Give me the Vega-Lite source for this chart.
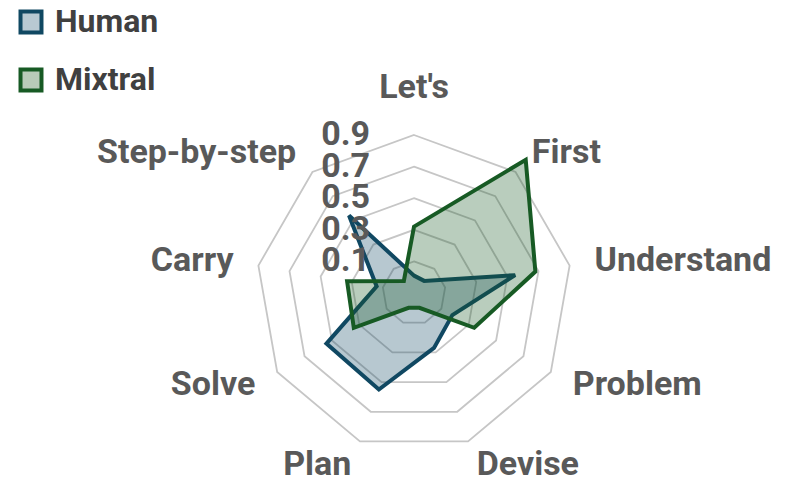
{
  "$schema": "https://vega.github.io/schema/vega-lite/v6.json",
  "width": 788,
  "height": 499,
  "padding": 0,
  "autosize": {"type": "none"},
  "background": "white",
  "config": {"view": {"stroke": null}, "font": "Roboto"},
  "datasets": {
    "axes": [
      {"axis": "Let's", "idx": 0, "levels": [0.1, 0.3, 0.5, 0.7, 0.9]},
      {"axis": "First", "idx": 1, "levels": [0.1, 0.3, 0.5, 0.7, 0.9]},
      {"axis": "Understand", "idx": 2, "levels": [0.1, 0.3, 0.5, 0.7, 0.9]},
      {"axis": "Problem", "idx": 3, "levels": [0.1, 0.3, 0.5, 0.7, 0.9]},
      {"axis": "Devise", "idx": 4, "levels": [0.1, 0.3, 0.5, 0.7, 0.9]},
      {"axis": "Plan", "idx": 5, "levels": [0.1, 0.3, 0.5, 0.7, 0.9]},
      {"axis": "Solve", "idx": 6, "levels": [0.1, 0.3, 0.5, 0.7, 0.9]},
      {"axis": "Carry", "idx": 7, "levels": [0.1, 0.3, 0.5, 0.7, 0.9]},
      {"axis": "Step-by-step", "idx": 8, "levels": [0.1, 0.3, 0.5, 0.7, 0.9]}
    ],
    "levels": [{"level": 0.1}, {"level": 0.3}, {"level": 0.5}, {"level": 0.7}, {"level": 0.9}],
    "scores": [
      {"series": "Human", "axis": "Let's", "value": 0.01},
      {"series": "Human", "axis": "First", "value": 0.0},
      {"series": "Human", "axis": "Understand", "value": 0.55},
      {"series": "Human", "axis": "Problem", "value": 0.18},
      {"series": "Human", "axis": "Devise", "value": 0.27},
      {"series": "Human", "axis": "Plan", "value": 0.55},
      {"series": "Human", "axis": "Solve", "value": 0.54},
      {"series": "Human", "axis": "Carry", "value": 0.14},
      {"series": "Human", "axis": "Step-by-step", "value": 0.54},
      {"series": "Mixtral", "axis": "Let's", "value": 0.32},
      {"series": "Mixtral", "axis": "First", "value": 1.0},
      {"series": "Mixtral", "axis": "Understand", "value": 0.68},
      {"series": "Mixtral", "axis": "Problem", "value": 0.34},
      {"series": "Mixtral", "axis": "Devise", "value": 0.0},
      {"series": "Mixtral", "axis": "Plan", "value": 0.0},
      {"series": "Mixtral", "axis": "Solve", "value": 0.34},
      {"series": "Mixtral", "axis": "Carry", "value": 0.33},
      {"series": "Mixtral", "axis": "Step-by-step", "value": 0.0}
    ]
  },
  "layer": [
    {
      "data": {"name": "axes"},
      "transform": [
        {"flatten": ["levels"], "as": ["level"]},
        {"calculate": "PI/2 - datum.idx*2*PI/9", "as": "ang"},
        {"calculate": "(datum.level+0.1)*cos(datum.ang)", "as": "x"},
        {"calculate": "(datum.level+0.1)*sin(datum.ang)", "as": "y"}
      ],
      "mark": {"type": "line", "interpolate": "linear-closed", "stroke": "#c6c6c6", "strokeWidth": 1.8},
      "encoding": {
        "x": {"field": "x", "type": "quantitative", "scale": {"domain": [-2.6203, 2.3671], "nice": false, "zero": false}, "axis": null},
        "y": {"field": "y", "type": "quantitative", "scale": {"domain": [-1.3038, 1.8544], "nice": false, "zero": false}, "axis": null},
        "detail": {"field": "level", "type": "nominal"},
        "order": {"field": "idx", "type": "quantitative"}
      }
    },
    {
      "data": {"name": "scores"},
      "transform": [
        {"filter": "datum.series == 'Human'"},
        {"lookup": "axis", "from": {"data": {"name": "axes"}, "key": "axis", "fields": ["idx"]}},
        {"calculate": "PI/2 - datum.idx*2*PI/9", "as": "ang"},
        {"calculate": "(datum.value+0.1)*cos(datum.ang)", "as": "x"},
        {"calculate": "(datum.value+0.1)*sin(datum.ang)", "as": "y"}
      ],
      "mark": {"type": "line", "interpolate": "linear-closed", "stroke": "#104862", "strokeWidth": 4, "fill": "#104862", "fillOpacity": 0.3, "strokeJoin": "miter"},
      "encoding": {
        "x": {"field": "x", "type": "quantitative"},
        "y": {"field": "y", "type": "quantitative"},
        "order": {"field": "idx", "type": "quantitative"}
      }
    },
    {
      "data": {"name": "scores"},
      "transform": [
        {"filter": "datum.series == 'Mixtral'"},
        {"lookup": "axis", "from": {"data": {"name": "axes"}, "key": "axis", "fields": ["idx"]}},
        {"calculate": "PI/2 - datum.idx*2*PI/9", "as": "ang"},
        {"calculate": "(datum.value+0.1)*cos(datum.ang)", "as": "x"},
        {"calculate": "(datum.value+0.1)*sin(datum.ang)", "as": "y"}
      ],
      "mark": {"type": "line", "interpolate": "linear-closed", "stroke": "#175a24", "strokeWidth": 4, "fill": "#175a24", "fillOpacity": 0.3, "strokeJoin": "miter"},
      "encoding": {
        "x": {"field": "x", "type": "quantitative"},
        "y": {"field": "y", "type": "quantitative"},
        "order": {"field": "idx", "type": "quantitative"}
      }
    },
    {
      "data": {"name": "axes"},
      "transform": [
        {"filter": "datum.idx >= 1 && datum.idx <= 4"},
        {"calculate": "PI/2 - datum.idx*2*PI/9", "as": "ang"},
        {"calculate": "1.16*cos(datum.ang)", "as": "x"},
        {"calculate": "1.16*sin(datum.ang)", "as": "y"}
      ],
      "mark": {"type": "text", "align": "left", "baseline": "middle", "fontSize": 34, "fontWeight": "bold", "color": "#595959"},
      "encoding": {
        "x": {"field": "x", "type": "quantitative"},
        "y": {"field": "y", "type": "quantitative"},
        "text": {"field": "axis"}
      }
    },
    {
      "data": {"name": "axes"},
      "transform": [
        {"filter": "datum.idx >= 5"},
        {"calculate": "PI/2 - datum.idx*2*PI/9", "as": "ang"},
        {"calculate": "1.16*cos(datum.ang)", "as": "x"},
        {"calculate": "1.16*sin(datum.ang)", "as": "y"}
      ],
      "mark": {"type": "text", "align": "right", "baseline": "middle", "fontSize": 34, "fontWeight": "bold", "color": "#595959"},
      "encoding": {
        "x": {"field": "x", "type": "quantitative"},
        "y": {"field": "y", "type": "quantitative"},
        "text": {"field": "axis"}
      }
    },
    {
      "data": {"name": "axes"},
      "transform": [
        {"filter": "datum.idx == 0"},
        {"calculate": "PI/2 - datum.idx*2*PI/9", "as": "ang"},
        {"calculate": "1.16*cos(datum.ang)", "as": "x"},
        {"calculate": "1.16*sin(datum.ang)", "as": "y"}
      ],
      "mark": {"type": "text", "align": "center", "baseline": "alphabetic", "dy": -12, "fontSize": 34, "fontWeight": "bold", "color": "#595959"},
      "encoding": {
        "x": {"field": "x", "type": "quantitative"},
        "y": {"field": "y", "type": "quantitative"},
        "text": {"field": "axis"}
      }
    },
    {
      "data": {"name": "levels"},
      "transform": [
        {"calculate": "0", "as": "x"},
        {"calculate": "datum.level + 0.1", "as": "y"}
      ],
      "mark": {"type": "text", "align": "right", "baseline": "middle", "dx": -44, "fontSize": 34, "fontWeight": "bold", "color": "#595959"},
      "encoding": {
        "x": {"field": "x", "type": "quantitative"},
        "y": {"field": "y", "type": "quantitative"},
        "text": {"field": "level", "type": "quantitative", "format": ".1f"}
      }
    },
    {
      "data": {"name": "scores"},
      "transform": [{"filter": "datum.series == 'none'"}],
      "mark": {"type": "square", "opacity": 1, "strokeWidth": 4},
      "encoding": {
        "fill": {"field": "series", "type": "nominal", "scale": {"domain": ["Human", "Mixtral"], "range": ["#b8c9d2", "#b9cbb9"]},
          "legend": {"title": null, "orient": "none", "legendX": 15, "legendY": 6, "symbolType": "square", "symbolSize": 440, "symbolStrokeWidth": 4, "labelFontSize": 32, "labelFont": "Roboto", "labelFontWeight": "bold", "labelColor": "#404040", "labelOffset": 8, "rowPadding": 20, "padding": 0}},
        "stroke": {"field": "series", "type": "nominal", "scale": {"domain": ["Human", "Mixtral"], "range": ["#104862", "#175a24"]},
          "legend": {"title": null, "orient": "none", "legendX": 15, "legendY": 6, "symbolType": "square", "symbolSize": 440, "symbolStrokeWidth": 4, "labelFontSize": 32, "labelFont": "Roboto", "labelFontWeight": "bold", "labelColor": "#404040", "labelOffset": 8, "rowPadding": 20, "padding": 0}}
      }
    }
  ]
}
